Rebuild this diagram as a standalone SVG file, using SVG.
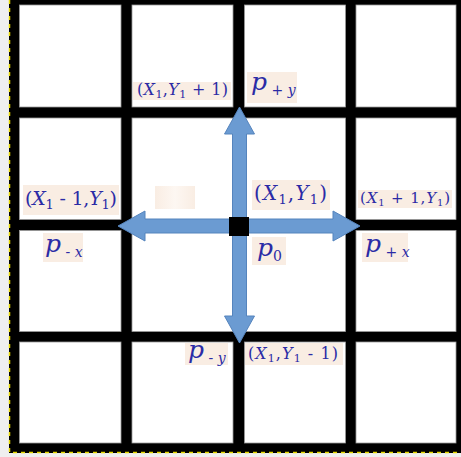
<svg xmlns="http://www.w3.org/2000/svg" width="461" height="457" viewBox="0 0 461 457">
<defs>
<linearGradient id="blankGrad" x1="0" y1="0" x2="1" y2="0">
<stop offset="0" stop-color="#f9ede3"/>
<stop offset="0.5" stop-color="#fdf7f2"/>
<stop offset="1" stop-color="#f9ede3"/>
</linearGradient>
</defs>
<style>
.cell{fill:#ffffff;stroke:#9a9a9a;stroke-width:0.8}
.arrow{fill:#6b9bd2;stroke:#5584bd;stroke-width:1}
.box{fill:#f9ede3}
.t{font-family:"DejaVu Serif","Liberation Serif",serif;fill:#2b2ba6}
.i{font-style:italic}
.p{font-family:"DejaVu Serif","Liberation Serif",serif;font-style:italic;fill:#2b2ba6}
</style>
<rect x="0" y="0" width="461" height="457" fill="#efefef"/>
<g id="grid">
<rect x="9" y="0" width="452" height="453" fill="#000"/>
<rect class="cell" x="19.5" y="5" width="101.5" height="102"/>
<rect class="cell" x="132" y="5" width="101" height="102"/>
<rect class="cell" x="244.5" y="5" width="101" height="102"/>
<rect class="cell" x="356" y="5" width="100" height="102"/>
<rect class="cell" x="19.5" y="118" width="101.5" height="101.5"/>
<rect class="cell" x="132" y="118" width="101" height="101.5"/>
<rect class="cell" x="244.5" y="118" width="101" height="101.5"/>
<rect class="cell" x="356" y="118" width="100" height="101.5"/>
<rect class="cell" x="19.5" y="230.5" width="101.5" height="101"/>
<rect class="cell" x="132" y="230.5" width="101" height="101"/>
<rect class="cell" x="244.5" y="230.5" width="101" height="101"/>
<rect class="cell" x="356" y="230.5" width="100" height="101"/>
<rect class="cell" x="19.5" y="342" width="101.5" height="101"/>
<rect class="cell" x="132" y="342" width="101" height="101"/>
<rect class="cell" x="244.5" y="342" width="101" height="101"/>
<rect class="cell" x="356" y="342" width="100" height="101"/>
<path d="M9.5 0V452.5H461" fill="none" stroke="#e6d800" stroke-width="1.5" stroke-dasharray="4 4"/>
</g>
<g id="connectors">
<path class="arrow" d="M232.5 226V134H224.5L239.5 107L254.5 134H246.5V226Z"/>
<path class="arrow" d="M232.5 226V316H224.5L239.5 343L254.5 316H246.5V226Z"/>
<path class="arrow" d="M239.5 219H145V211L118 226L145 241V233H239.5Z"/>
<path class="arrow" d="M239.5 219H333V211L360 226L333 241V233H239.5Z"/>
</g>
<g id="p0-node">
<rect x="229" y="217" width="20" height="19" fill="#000"/>
</g>
<g id="label-x1-y1plus1">
<rect class="box" x="133" y="82" width="98" height="18"/>
<text class="t" x="137" y="95" font-size="16" textLength="91" lengthAdjust="spacing">(<tspan class="i">X</tspan><tspan font-size="11" dy="3">1</tspan><tspan dy="-3">,</tspan><tspan class="i">Y</tspan><tspan font-size="11" dy="3">1</tspan><tspan dy="-3"> + 1)</tspan></text>
</g>
<g id="label-p-plus-y">
<rect class="box" x="247" y="72" width="50" height="31"/>
<text class="p" x="251" y="90" font-size="25">p<tspan class="t" font-style="normal" font-size="14" dy="5"> + </tspan><tspan font-size="14">y</tspan></text>
</g>
<g id="label-x1minus1-y1">
<rect class="box" x="23" y="185" width="96" height="30"/>
<text class="t" x="25" y="205" font-size="19" textLength="92" lengthAdjust="spacing">(<tspan class="i">X</tspan><tspan font-size="13" dy="4">1</tspan><tspan dy="-4"> - 1,</tspan><tspan class="i">Y</tspan><tspan font-size="13" dy="4">1</tspan><tspan dy="-4">)</tspan></text>
</g>
<g id="label-blank">
<rect x="155" y="186" width="40" height="23" fill="url(#blankGrad)"/>
</g>
<g id="label-p-minus-x">
<rect class="box" x="43" y="233" width="40" height="29"/>
<text class="p" x="45" y="252" font-size="25">p<tspan class="t" font-style="normal" font-size="14" dy="5"> - </tspan><tspan font-size="14">x</tspan></text>
</g>
<g id="label-x1-y1">
<rect class="box" x="252" y="180" width="78" height="30"/>
<text class="t" x="254" y="200" font-size="20" textLength="73" lengthAdjust="spacing">(<tspan class="i">X</tspan><tspan font-size="13" dy="4">1</tspan><tspan dy="-4">,</tspan><tspan class="i">Y</tspan><tspan font-size="13" dy="4">1</tspan><tspan dy="-4">)</tspan></text>
</g>
<g id="label-x1plus1-y1">
<rect class="box" x="358" y="190" width="94" height="18"/>
<text class="t" x="360" y="203" font-size="15" textLength="90" lengthAdjust="spacing">(<tspan class="i">X</tspan><tspan font-size="10" dy="3">1</tspan><tspan dy="-3"> + 1,</tspan><tspan class="i">Y</tspan><tspan font-size="10" dy="3">1</tspan><tspan dy="-3">)</tspan></text>
</g>
<g id="label-p0">
<rect class="box" x="252" y="237" width="34" height="28"/>
<text class="p" x="257" y="256" font-size="25">p<tspan class="t" font-style="normal" font-size="14" dy="5">0</tspan></text>
</g>
<g id="label-p-plus-x">
<rect class="box" x="362" y="233" width="46" height="29"/>
<text class="p" x="365" y="252" font-size="25">p<tspan class="t" font-style="normal" font-size="14" dy="5"> + </tspan><tspan font-size="14">x</tspan></text>
</g>
<g id="label-p-minus-y">
<rect class="box" x="185" y="343" width="43" height="22"/>
<text class="p" x="188" y="358" font-size="25">p<tspan class="t" font-style="normal" font-size="14" dy="5"> - </tspan><tspan font-size="14">y</tspan></text>
</g>
<g id="label-x1-y1minus1">
<rect class="box" x="245" y="343" width="98" height="22"/>
<text class="t" x="248" y="359" font-size="16" textLength="90" lengthAdjust="spacing">(<tspan class="i">X</tspan><tspan font-size="11" dy="3">1</tspan><tspan dy="-3">,</tspan><tspan class="i">Y</tspan><tspan font-size="11" dy="3">1</tspan><tspan dy="-3"> - 1)</tspan></text>
</g>
</svg>
